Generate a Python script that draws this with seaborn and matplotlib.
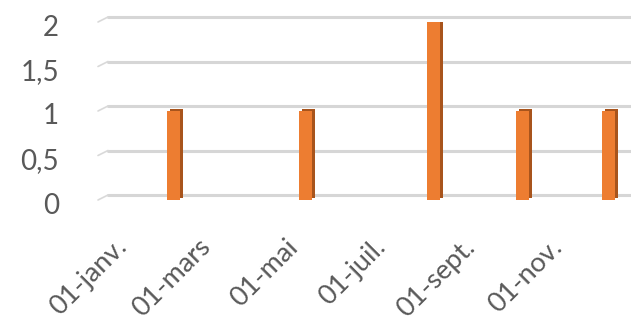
import numpy as np
import pandas as pd
import matplotlib
matplotlib.use("Agg")
import matplotlib.pyplot as plt
import matplotlib.dates as mdates
from matplotlib.transforms import ScaledTranslation
import seaborn as sns

# data
dates = ["2018-02-01", "2018-05-04", "2018-08-01", "2018-10-02", "2018-12-01"]
counts = [1, 1, 2, 1, 1]
tick_dates = ["2018-01-01", "2018-03-01", "2018-05-01", "2018-07-01", "2018-09-01", "2018-11-01"]
tick_labels = ["01-janv.", "01-mars", "01-mai", "01-juil.", "01-sept.", "01-nov."]
y_ticks = [0, 0.5, 1, 1.5, 2]
y_labels = ["0", "0,5", "1", "1,5", "2"]

sns.set_theme(style="white")
plt.rcParams["font.family"] = ["Lato", "DejaVu Sans"]

df = pd.DataFrame({"date": pd.to_datetime(dates), "count": counts})
x = mdates.date2num(df["date"])

fig = plt.figure(figsize=(6.31, 3.24), dpi=100)
ax = fig.add_axes([98 / 631, (324 - 200) / 324, (631 - 98) / 631, 178 / 324])

# back wall gridlines (3D look: shifted right/up) + small side-wall diagonals
back_off = ScaledTranslation(10 / 100, 5 / 100, fig.dpi_scale_trans)
for yv in y_ticks:
    ax.plot([0, 1], [yv, yv], color="#d6d6d6", lw=2.2, clip_on=False, zorder=0,
            transform=ax.get_yaxis_transform() + back_off)
    ax.annotate("", xy=(0, yv), xycoords=ax.get_yaxis_transform(),
                xytext=(7.2, 3.6), textcoords="offset points",
                arrowprops=dict(arrowstyle="-", color="#d9d9d9", lw=1.2,
                                shrinkA=0, shrinkB=0))

# bar side (darker), then front face
side = ax.bar(x, df["count"], width=9, color="#a8541c", linewidth=0, zorder=2)
for p in side:
    p.set_transform(ax.transData + ScaledTranslation(3 / 100, 2 / 100, fig.dpi_scale_trans))
ax.bar(x, df["count"], width=9, color="#ed7d31", linewidth=0, zorder=3)

ax.set_xlim(mdates.date2num(pd.Timestamp("2017-12-10")), mdates.date2num(pd.Timestamp("2018-12-17")))
ax.set_ylim(0, 2)

ax.set_yticks(y_ticks)
ax.set_yticklabels(y_labels, fontsize=20, color="#595959")
ax.set_xticks(mdates.date2num(pd.to_datetime(tick_dates)))
ax.set_xticklabels(tick_labels, fontsize=19.5, color="#595959", rotation=45,
                   ha="right", va="center", rotation_mode="anchor")
ax.tick_params(axis="y", length=0, pad=28)
ax.tick_params(axis="x", length=0, pad=31)
for lbl in ax.get_yticklabels():
    lbl.set_transform(lbl.get_transform() + ScaledTranslation(0, -3 / 100, fig.dpi_scale_trans))
for lbl in ax.get_xticklabels():
    lbl.set_transform(lbl.get_transform() + ScaledTranslation(-7 / 100, 0, fig.dpi_scale_trans))

sns.despine(ax=ax, left=True, bottom=True)
ax.grid(False)

fig.savefig("out.png", dpi=100)
